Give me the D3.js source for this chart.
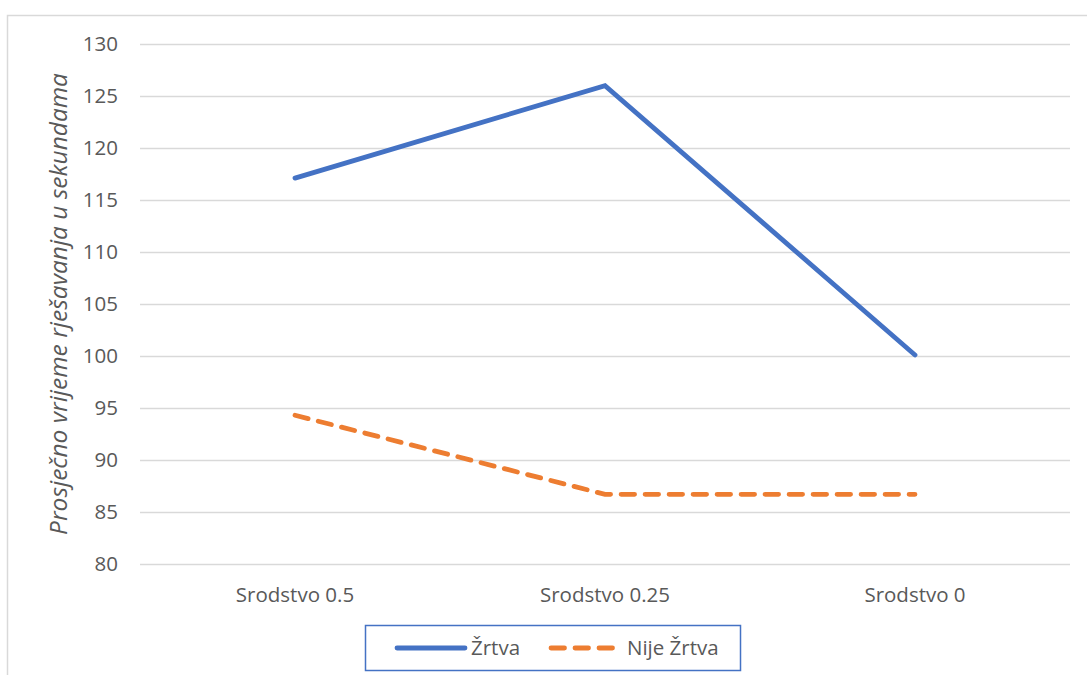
<!DOCTYPE html>
<html>
<head>
<meta charset="utf-8">
<script src="https://cdn.jsdelivr.net/npm/d3@7"></script>
<style>
  body { margin: 0; background: #fff; }
  text { font-family: "Open Sans", sans-serif; fill: #595959; }
</style>
</head>
<body>
<script>
// data
var categories = ["Srodstvo 0.5", "Srodstvo 0.25", "Srodstvo 0"];
var zrtva = [117.1, 126.0, 100.1];
var nijeZrtva = [94.3, 86.7, 86.7];
var yTicks = [80, 85, 90, 95, 100, 105, 110, 115, 120, 125, 130];
var seriesNames = ["Žrtva", "Nije Žrtva"];
var yTitle = "Prosječno vrijeme rješavanja u sekundama";

var W = 1087, H = 675;
var margin = {top: 44, right: 17, bottom: 111, left: 140},
    width = W - margin.left - margin.right,
    height = H - margin.top - margin.bottom;

var svg = d3.select("body").append("svg")
    .attr("width", W)
    .attr("height", H);

// chart border
svg.append("rect")
   .attr("x", 7.5).attr("y", 15.5)
   .attr("width", W + 20).attr("height", H + 20)
   .attr("fill", "none")
   .attr("stroke", "#d9d9d9")
   .attr("stroke-width", 1.5);

var g = svg.append("g")
    .attr("transform", "translate(" + margin.left + "," + margin.top + ")");

var x = d3.scaleBand().domain(categories).range([0, width]);
var y = d3.scaleLinear().domain([80, 130]).range([height, 0]);

// gridlines + y labels
var yAxis = g.append("g")
    .call(d3.axisLeft(y).tickValues(yTicks).tickSize(-width).tickPadding(22));
yAxis.select(".domain").remove();
yAxis.selectAll(".tick line").attr("stroke", "#d9d9d9").attr("stroke-width", 1.5);
yAxis.selectAll(".tick text").style("font-size", "20.5px").attr("fill", "#595959");

// x labels
var xAxis = g.append("g")
    .attr("transform", "translate(0," + height + ")")
    .call(d3.axisBottom(x).tickSize(0).tickPadding(23));
xAxis.select(".domain").remove();
xAxis.selectAll(".tick text").style("font-size", "20.5px").attr("fill", "#595959");

var line = d3.line()
    .x(function(d, i) { return x(categories[i]) + x.bandwidth() / 2; })
    .y(function(d) { return y(d); });

g.append("path")
   .datum(zrtva)
   .attr("d", line)
   .attr("fill", "none")
   .attr("stroke", "#4472C4")
   .attr("stroke-width", 4.8)
   .attr("stroke-linecap", "round")
   .attr("stroke-linejoin", "miter");

g.append("path")
   .datum(nijeZrtva)
   .attr("d", line)
   .attr("fill", "none")
   .attr("stroke", "#ED7D31")
   .attr("stroke-width", 4.8)
   .attr("stroke-linecap", "round")
   .attr("stroke-dasharray", "13.5,10.5");

// y axis title
svg.append("text")
   .attr("transform", "translate(67," + (margin.top + height / 2) + ") rotate(-90)")
   .attr("text-anchor", "middle")
   .style("font-size", "24.5px")
   .style("font-style", "italic")
   .text(yTitle);

// legend
var legend = svg.append("g");
legend.append("rect")
   .attr("x", 365.5).attr("y", 625.5)
   .attr("width", 375).attr("height", 45)
   .attr("fill", "#fff")
   .attr("stroke", "#4472C4")
   .attr("stroke-width", 1.5);

var legendItems = [
  {name: seriesNames[0], color: "#4472C4", dash: null, x1: 397, x2: 465, tx: 471},
  {name: seriesNames[1], color: "#ED7D31", dash: "13.5,10.5", x1: 551, x2: 614, tx: 627}
];
legendItems.forEach(function(d) {
  legend.append("line")
     .attr("x1", d.x1).attr("x2", d.x2)
     .attr("y1", 648).attr("y2", 648)
     .attr("stroke", d.color)
     .attr("stroke-width", 4.8)
     .attr("stroke-linecap", "round")
     .attr("stroke-dasharray", d.dash);
  legend.append("text")
     .attr("x", d.tx).attr("y", 648)
     .attr("dy", "0.35em")
     .style("font-size", "20.5px")
     .text(d.name);
});
</script>
</body>
</html>
